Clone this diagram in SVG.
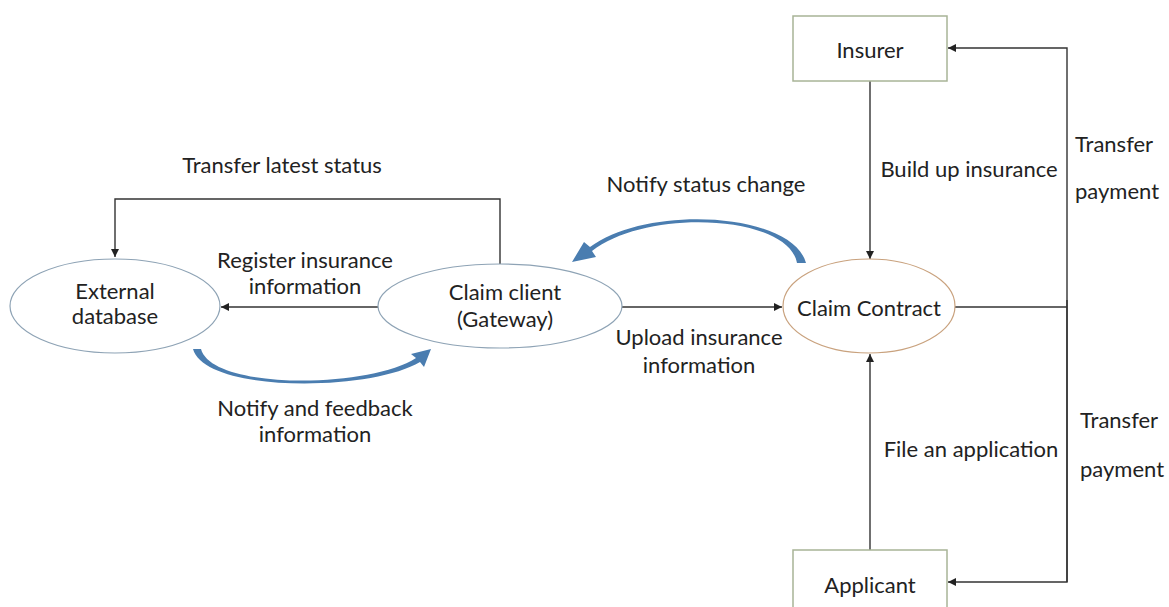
<svg xmlns="http://www.w3.org/2000/svg" width="1169" height="607" viewBox="0 0 1169 607">
  <style>
    text { font-family: Lato, "Liberation Sans", sans-serif; font-size: 22px; fill: #222; }
    .c { text-anchor: middle; }
    .node-ell { fill: #fff; stroke: #8ea3b5; stroke-width: 1.2; }
    .node-contract { fill: #fff; stroke: #c9a27e; stroke-width: 1.2; }
    .node-box { fill: #fff; stroke: #a8b497; stroke-width: 1.5; }
    .link { fill: none; stroke: #333; stroke-width: 1.4; }
    .flow { fill: #4a7db0; }
  </style>
  <defs>
    <marker id="arr" viewBox="0 0 10 10" refX="10" refY="5" markerWidth="8" markerHeight="8" markerUnits="userSpaceOnUse" orient="auto">
      <path d="M0,0 L10,5 L0,10 Z" fill="#222"/>
    </marker>
  </defs>

  <rect width="1169" height="607" fill="#fff"/>

  <!-- connectors -->
  <g id="connectors">
    <!-- Claim client -> External database (status) -->
    <polyline class="link" points="500,265 500,199 115,199 115,257" marker-end="url(#arr)"/>
    <!-- Claim client -> External database (register) -->
    <line class="link" x1="378" y1="307" x2="221" y2="307" marker-end="url(#arr)"/>
    <!-- Claim client -> Claim Contract -->
    <line class="link" x1="622" y1="307" x2="782" y2="307" marker-end="url(#arr)"/>
    <!-- Insurer -> Claim Contract -->
    <line class="link" x1="870" y1="81" x2="870" y2="259" marker-end="url(#arr)"/>
    <!-- Applicant -> Claim Contract -->
    <line class="link" x1="870" y1="550" x2="870" y2="354" marker-end="url(#arr)"/>
    <!-- Claim Contract -> Insurer / Applicant payments -->
    <line class="link" x1="955" y1="307" x2="1067" y2="307"/>
    <polyline class="link" points="1067,582 1067,48 948,48" marker-end="url(#arr)"/>
    <polyline class="link" points="1067,300 1067,582 948,582" marker-end="url(#arr)"/>

    <!-- curved notification arrows -->
    <path class="flow" d="M806,263 C792,212 648,204 590,247 L584,242 L572,262 L596,257 L592,251 C646,208 788,214 797,263 Z"/>
    <path class="flow" d="M193,349 C205,393 370,392 420,362 L424,367 L431,349 L411,354 L416,358 C368,389 212,390 201,349 Z"/>
  </g>

  <!-- nodes -->
  <g id="external-database">
    <ellipse class="node-ell" cx="115" cy="306" rx="105" ry="47"/>
    <text class="c" x="115" y="299">External</text>
    <text class="c" x="115" y="324">database</text>
  </g>
  <g id="claim-client">
    <ellipse class="node-ell" cx="500" cy="306" rx="122" ry="42"/>
    <text class="c" x="505" y="300">Claim client</text>
    <text class="c" x="505" y="327">(Gateway)</text>
  </g>
  <g id="claim-contract">
    <ellipse class="node-contract" cx="869" cy="306" rx="86" ry="47"/>
    <text class="c" x="869" y="316">Claim Contract</text>
  </g>
  <g id="insurer">
    <rect class="node-box" x="793" y="16" width="154" height="65"/>
    <text class="c" x="870" y="58">Insurer</text>
  </g>
  <g id="applicant">
    <rect class="node-box" x="793" y="550" width="154" height="70"/>
    <text class="c" x="870" y="593">Applicant</text>
  </g>

  <!-- connector labels -->
  <g id="labels">
    <text class="c" x="282" y="173">Transfer latest status</text>
    <text class="c" x="305" y="268">Register insurance</text>
    <text class="c" x="305" y="294">information</text>
    <text class="c" x="315" y="416">Notify and feedback</text>
    <text class="c" x="315" y="442">information</text>
    <text class="c" x="706" y="192">Notify status change</text>
    <text class="c" x="699" y="345">Upload insurance</text>
    <text class="c" x="699" y="373">information</text>
    <text class="c" x="969" y="177">Build up insurance</text>
    <text class="c" x="971" y="457">File an application</text>
    <text x="1075" y="152">Transfer</text>
    <text x="1075" y="199">payment</text>
    <text x="1080" y="428">Transfer</text>
    <text x="1080" y="477">payment</text>
  </g>
</svg>
